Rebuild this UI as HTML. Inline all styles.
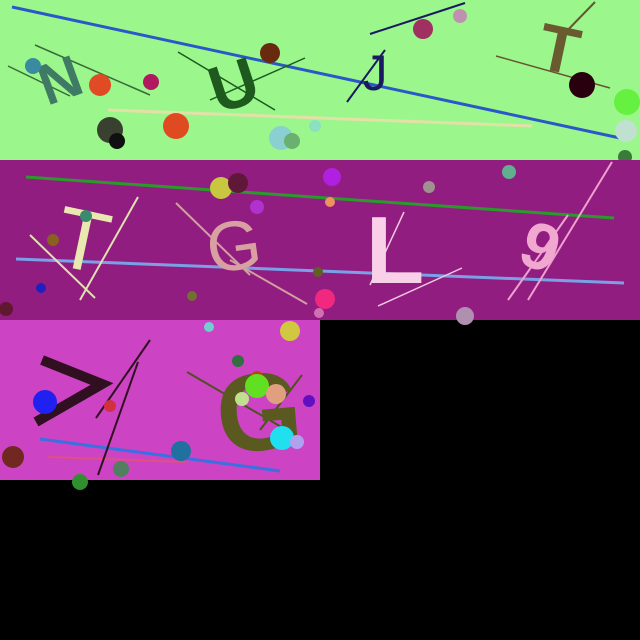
<!DOCTYPE html>
<html><head><meta charset="utf-8"><style>
html,body{margin:0;padding:0;background:#000;width:640px;height:640px;overflow:hidden}
svg{display:block}
text{font-family:"Liberation Sans",sans-serif}
</style></head><body>
<svg width="640" height="640" viewBox="0 0 640 640">
<rect width="640" height="640" fill="#000"/>
<g>
<rect x="0" y="0" width="640" height="160" fill="#9bf78c"/>
<line x1="12" y1="7" x2="620" y2="138" stroke="#2b58c8" stroke-width="3"/>
<line x1="108" y1="110" x2="532" y2="126" stroke="#e3e0a8" stroke-width="3"/>
<line x1="8" y1="66" x2="70" y2="96" stroke="#3a6a3a" stroke-width="1.5"/>
<line x1="35" y1="45" x2="150" y2="95" stroke="#3a6a3a" stroke-width="1.5"/>
<line x1="178" y1="52" x2="275" y2="110" stroke="#1d5a1d" stroke-width="1.5"/>
<line x1="210" y1="100" x2="305" y2="58" stroke="#1d5a1d" stroke-width="1.5"/>
<line x1="370" y1="34" x2="465" y2="3" stroke="#1a1a60" stroke-width="2"/>
<line x1="347" y1="102" x2="385" y2="50" stroke="#1a1a60" stroke-width="2"/>
<line x1="496" y1="56" x2="610" y2="88" stroke="#665530" stroke-width="1.5"/>
<line x1="560" y1="38" x2="595" y2="2" stroke="#665530" stroke-width="2"/>
<text x="60" y="100" font-size="58" font-weight="bold" fill="#3f7a64" transform="rotate(-20 60 80)" text-anchor="middle">N</text>
<text x="232" y="108" font-size="66" font-weight="bold" fill="#1e5a1e" transform="rotate(-18 232 80)" text-anchor="middle">U</text>
<text x="375" y="90" font-size="50" fill="#1a1a60" text-anchor="middle">J</text>
<text x="560" y="72" font-size="66" font-weight="bold" fill="#6a5a30" transform="rotate(12 560 45)" text-anchor="middle">T</text>
<circle cx="33" cy="66" r="8" fill="#3a8aa0"/>
<circle cx="100" cy="85" r="11" fill="#e04a25"/>
<circle cx="151" cy="82" r="8" fill="#b01860"/>
<circle cx="110" cy="130" r="13" fill="#3a4030"/>
<circle cx="117" cy="141" r="8" fill="#101010"/>
<circle cx="176" cy="126" r="13" fill="#e04a20"/>
<circle cx="270" cy="53" r="10" fill="#6a2a10"/>
<circle cx="281" cy="138" r="12" fill="#8ad0d0"/>
<circle cx="292" cy="141" r="8" fill="#6ab070"/>
<circle cx="315" cy="126" r="6" fill="#8ae0c0"/>
<circle cx="423" cy="29" r="10" fill="#a03060"/>
<circle cx="460" cy="16" r="7" fill="#c090b0"/>
<circle cx="582" cy="85" r="13" fill="#28000e"/>
<circle cx="627" cy="102" r="13" fill="#66f040"/>
<circle cx="626" cy="131" r="11" fill="#c0e0d0"/>
<circle cx="625" cy="157" r="7" fill="#3a7a3a"/>
</g>
<g>
<rect x="0" y="160" width="640" height="160" fill="#921d80"/>
<line x1="26" y1="177" x2="614" y2="218" stroke="#2a9a2a" stroke-width="3"/>
<line x1="16" y1="259" x2="624" y2="283" stroke="#7aa0e8" stroke-width="3"/>
<line x1="30" y1="235" x2="95" y2="298" stroke="#e0e0b0" stroke-width="2"/>
<line x1="80" y1="300" x2="138" y2="197" stroke="#e0e0b0" stroke-width="2"/>
<line x1="176" y1="203" x2="250" y2="275" stroke="#d0a0a0" stroke-width="2"/>
<line x1="230" y1="260" x2="307" y2="304" stroke="#d0a0a0" stroke-width="2"/>
<line x1="378" y1="306" x2="462" y2="268" stroke="#f0c8e0" stroke-width="1.5"/>
<line x1="370" y1="285" x2="404" y2="212" stroke="#f0c8e0" stroke-width="1.5"/>
<line x1="508" y1="300" x2="568" y2="215" stroke="#f0a0d0" stroke-width="2"/>
<line x1="528" y1="300" x2="612" y2="162" stroke="#f0a0d0" stroke-width="2"/>
<text x="85" y="270" font-size="86" fill="#e8e8b0" transform="rotate(12 85 230)" text-anchor="middle">T</text>
<text x="233" y="270" font-size="70" fill="#d8a0a0" transform="rotate(-8 233 240)" text-anchor="middle" font-family="Liberation Serif">G</text>
<text x="395" y="283" font-size="96" font-weight="bold" fill="#f8d0e8" text-anchor="middle">L</text>
<text x="543" y="270" font-size="66" font-weight="bold" fill="#f0a8d0" transform="rotate(20 543 240)" text-anchor="middle">9</text>
<circle cx="221" cy="188" r="11" fill="#c8c840"/>
<circle cx="238" cy="183" r="10" fill="#601838"/>
<circle cx="257" cy="207" r="7" fill="#b030d0"/>
<circle cx="332" cy="177" r="9" fill="#b020e0"/>
<circle cx="330" cy="202" r="5" fill="#f09060"/>
<circle cx="429" cy="187" r="6" fill="#a09090"/>
<circle cx="509" cy="172" r="7" fill="#60b090"/>
<circle cx="86" cy="216" r="6" fill="#3a8a70"/>
<circle cx="53" cy="240" r="6" fill="#8a6020"/>
<circle cx="41" cy="288" r="5" fill="#2020c0"/>
<circle cx="6" cy="309" r="7" fill="#601830"/>
<circle cx="192" cy="296" r="5" fill="#707030"/>
<circle cx="318" cy="272" r="5" fill="#606020"/>
<circle cx="325" cy="299" r="10" fill="#f02880"/>
<circle cx="319" cy="313" r="5" fill="#d070b0"/>
<circle cx="465" cy="316" r="9" fill="#b090b0"/>
</g>
<g>
<rect x="0" y="320" width="320" height="160" fill="#cc44c4"/>
<line x1="40" y1="439" x2="280" y2="471" stroke="#3a70e0" stroke-width="3"/>
<line x1="48" y1="457" x2="185" y2="462" stroke="#e05080" stroke-width="2"/>
<line x1="96" y1="418" x2="150" y2="340" stroke="#301020" stroke-width="2"/>
<line x1="98" y1="475" x2="138" y2="362" stroke="#301020" stroke-width="2"/>
<line x1="187" y1="372" x2="290" y2="432" stroke="#505020" stroke-width="2"/>
<line x1="260" y1="430" x2="302" y2="375" stroke="#505020" stroke-width="2"/>
<polyline points="42,360 102,384 36,422" fill="none" stroke="#301020" stroke-width="10"/>
<text x="258" y="450" font-size="110" font-weight="bold" fill="#5a5a20" text-anchor="middle" transform="rotate(-5 258 400)">G</text>
<circle cx="45" cy="402" r="12" fill="#2020f0"/>
<circle cx="110" cy="406" r="6" fill="#d03040"/>
<circle cx="13" cy="457" r="11" fill="#702820"/>
<circle cx="121" cy="469" r="8" fill="#508060"/>
<circle cx="181" cy="451" r="10" fill="#2070a0"/>
<circle cx="209" cy="327" r="5" fill="#70d0d0"/>
<circle cx="290" cy="331" r="10" fill="#d0c840"/>
<circle cx="238" cy="361" r="6" fill="#307040"/>
<circle cx="257" cy="377" r="6" fill="#c04010"/>
<circle cx="257" cy="386" r="12" fill="#60e020"/>
<circle cx="242" cy="399" r="7" fill="#c0e090"/>
<circle cx="276" cy="394" r="10" fill="#e0a080"/>
<circle cx="309" cy="401" r="6" fill="#6010c0"/>
<circle cx="282" cy="438" r="12" fill="#20e0f0"/>
<circle cx="297" cy="442" r="7" fill="#b0a0f0"/>
<circle cx="80" cy="482" r="8" fill="#309030"/>
</g>
</svg>
</body></html>
